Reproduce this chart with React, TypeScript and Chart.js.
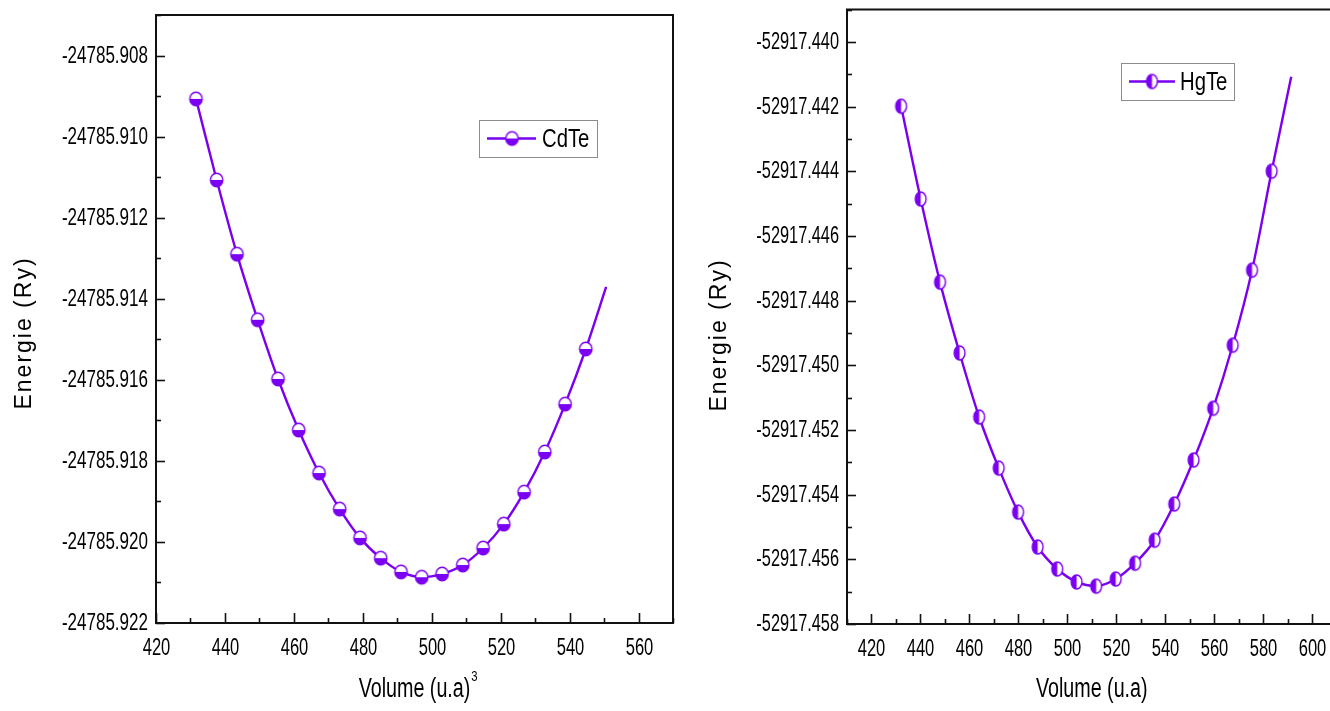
import React, { useEffect, useRef } from 'react';
import { Chart, registerables } from 'chart.js';
Chart.register(...registerables);

const ARIAL = '"Liberation Sans", Arial, Helvetica, sans-serif';
const PURPLE = '#7b00f2';
const INK = '#000000';

// ---- CdTe data ----
const cdteVolume = [431.6, 437.6, 443.5, 449.5, 455.4, 461.4, 467.3, 473.3, 479.2, 485.2, 491.1, 497.1, 503.0, 509.0, 514.9, 520.9, 526.8, 532.8, 538.7, 544.7];
const cdteEnergy = [-24785.90907, -24785.91107, -24785.91290, -24785.91452, -24785.91598, -24785.91724, -24785.91830, -24785.91919, -24785.91990, -24785.92040, -24785.92074, -24785.92087, -24785.92079, -24785.92057, -24785.92015, -24785.91956, -24785.91877, -24785.91778, -24785.91660, -24785.91524];
const cdteFitVolume = [...cdteVolume, 550.6];
const cdteFitEnergy = [...cdteEnergy, -24785.91371];
const cdteXRange = [420, 570];
const cdteYRange = [-24785.922, -24785.907];

// ---- HgTe data ----
const hgteVolume = [432.1, 440.1, 448.0, 456.0, 464.0, 472.0, 479.9, 487.9, 495.9, 503.8, 511.8, 519.8, 527.7, 535.7, 543.7, 551.6, 559.6, 567.6, 575.5, 583.5];
const hgteEnergy = [-52917.44199, -52917.44486, -52917.44743, -52917.44962, -52917.45160, -52917.45318, -52917.45454, -52917.45562, -52917.45630, -52917.45670, -52917.45683, -52917.45661, -52917.45612, -52917.45541, -52917.45429, -52917.45293, -52917.45133, -52917.44938, -52917.44706, -52917.44400];
const hgteFitVolume = [...hgteVolume, 591.5];
const hgteFitEnergy = [...hgteEnergy, -52917.44108];
const hgteXRange = [410, 610];
const hgteYRange = [-52917.458, -52917.439];

const yTitle = 'Energie (Ry)';
const xTitle = 'Volume (u.a)';

type Panel = {
  name: string;
  vol: number[]; en: number[]; fitVol: number[]; fitEn: number[];
  xRange: number[]; yRange: number[];
  half: 'bottom' | 'left';
  rx: number; ry: number;
  areaLeft: number; areaTop: number; padRight: number; xAxisH: number;
  legendBox: number[]; legLine: number[]; legMarker: number; legText: number;
  yTitlePos: number[]; xTitleY: number; sup: boolean; yLabelScale: number;
};

function makeMarker(half: 'bottom' | 'left', rx: number, ry: number) {
  const c = document.createElement('canvas');
  const w = Math.ceil(rx * 2 + 4), h = Math.ceil(ry * 2 + 4);
  c.width = w; c.height = h;
  const g = c.getContext('2d')!;
  const cx = w / 2, cy = h / 2;
  g.fillStyle = '#ffffff';
  g.beginPath(); g.ellipse(cx, cy, rx, ry, 0, 0, Math.PI * 2); g.fill();
  g.fillStyle = PURPLE;
  g.beginPath();
  if (half === 'bottom') g.ellipse(cx, cy, rx, ry, 0, 0, Math.PI);
  else g.ellipse(cx, cy, rx, ry, 0, Math.PI / 2, Math.PI * 1.5);
  g.closePath(); g.fill();
  g.strokeStyle = PURPLE; g.lineWidth = 1.4;
  g.beginPath(); g.ellipse(cx, cy, rx, ry, 0, 0, Math.PI * 2); g.stroke();
  return c;
}

function narrowText(ctx: CanvasRenderingContext2D, text: string, x: number, y: number, align: CanvasTextAlign, sx: number) {
  ctx.save();
  ctx.translate(x, y);
  ctx.scale(sx, 1);
  ctx.textAlign = align;
  ctx.textBaseline = 'middle';
  ctx.fillText(text, 0, 0);
  ctx.restore();
}

function buildChart(canvas: HTMLCanvasElement, p: Panel) {
  const marker = makeMarker(p.half, p.rx, p.ry);
  const yMin = p.yRange[0];
  const plugin = {
    id: 'frameAndDecor',
    afterDatasetsDraw(chart: any) {
      const { ctx, chartArea: a, scales } = chart;
      ctx.save();
      // frame
      ctx.strokeStyle = '#111';
      ctx.lineWidth = 2;
      ctx.strokeRect(a.left, a.top, a.right - a.left, a.bottom - a.top);
      // inward ticks + labels
      ctx.fillStyle = INK;
      ctx.font = `23px ${ARIAL}`;
      for (const t of scales.x.ticks) {
        const v = Math.round(t.value);
        const px = Math.round(scales.x.getPixelForValue(t.value)) + 0.5;
        const major = v % 20 === 0;
        ctx.lineWidth = 1.6;
        ctx.beginPath(); ctx.moveTo(px, a.bottom); ctx.lineTo(px, a.bottom - (major ? 10 : 5)); ctx.stroke();
        if (major) narrowText(ctx, String(v), px, a.bottom + 26, 'center', 0.72);
      }
      for (const t of scales.y.ticks) {
        const py = Math.round(scales.y.getPixelForValue(t.value)) + 0.5;
        const k = Math.round((t.value - yMin) / 0.001);
        const major = k % 2 === 0;
        ctx.lineWidth = 1.6;
        ctx.beginPath(); ctx.moveTo(a.left, py); ctx.lineTo(a.left + (major ? 9 : 5), py); ctx.stroke();
        if (major) narrowText(ctx, Number(t.value).toFixed(3), a.left - 8, py, 'right', p.yLabelScale);
      }
      // legend
      const [bx, by, bw, bh] = p.legendBox;
      ctx.fillStyle = '#ffffff';
      ctx.fillRect(bx, by, bw, bh);
      ctx.strokeStyle = '#8c8c8c'; ctx.lineWidth = 1;
      ctx.strokeRect(bx + 0.5, by + 0.5, bw, bh);
      const ly = by + bh / 2;
      ctx.strokeStyle = PURPLE; ctx.lineWidth = 2.4;
      ctx.beginPath(); ctx.moveTo(bx + p.legLine[0], ly); ctx.lineTo(bx + p.legLine[1], ly); ctx.stroke();
      ctx.drawImage(marker, bx + p.legMarker - marker.width / 2, ly - marker.height / 2);
      ctx.fillStyle = INK;
      ctx.font = `26px ${ARIAL}`;
      narrowText(ctx, p.name, bx + p.legText, ly + 1, 'left', 0.78);
      // x title
      const cx = (a.left + a.right) / 2;
      ctx.font = `27px ${ARIAL}`;
      narrowText(ctx, xTitle, cx, p.xTitleY, 'center', 0.73);
      if (p.sup) {
        const w = ctx.measureText(xTitle).width * 0.73;
        ctx.font = `15px ${ARIAL}`;
        narrowText(ctx, '3', cx + w / 2 + 1, p.xTitleY - 13, 'left', 0.75);
      }
      // y title
      ctx.save();
      ctx.translate(p.yTitlePos[0], p.yTitlePos[1]);
      ctx.rotate(-Math.PI / 2);
      ctx.font = `23px ${ARIAL}`;
      (ctx as any).letterSpacing = '2px';
      ctx.textAlign = 'center'; ctx.textBaseline = 'middle';
      ctx.fillText(yTitle, 0, 0);
      ctx.restore();
      ctx.restore();
    },
  };

  return new Chart(canvas, {
    type: 'line',
    data: {
      datasets: [
        {
          label: p.name,
          data: p.vol.map((v, i) => ({ x: v, y: p.en[i] })),
          showLine: false,
          pointStyle: marker as any,
          pointRadius: 6,
          pointHoverRadius: 6,
          order: 0,
        },
        {
          label: p.name + ' fit',
          data: p.fitVol.map((v, i) => ({ x: v, y: p.fitEn[i] })),
          borderColor: PURPLE,
          borderWidth: 2.4,
          pointRadius: 0,
          cubicInterpolationMode: 'monotone',
          fill: false,
          order: 1,
        },
      ],
    } as any,
    options: {
      responsive: false,
      animation: false,
      events: [],
      layout: { padding: { left: 0, top: p.areaTop, right: p.padRight, bottom: 0 } },
      plugins: { legend: { display: false }, tooltip: { enabled: false } },
      scales: {
        x: {
          type: 'linear',
          min: p.xRange[0], max: p.xRange[1],
          grid: { display: false, drawTicks: false },
          border: { display: false },
          ticks: { display: false, stepSize: 10, autoSkip: false },
          afterFit: (s: any) => { s.height = p.xAxisH; },
        },
        y: {
          type: 'linear',
          min: p.yRange[0], max: p.yRange[1],
          grid: { display: false, drawTicks: false },
          border: { display: false },
          ticks: { display: false, stepSize: 0.001, autoSkip: false },
          afterFit: (s: any) => { s.width = p.areaLeft; },
        },
      },
    } as any,
    plugins: [plugin],
  });
}

const leftPanel: Panel = {
  name: 'CdTe',
  vol: cdteVolume, en: cdteEnergy, fitVol: cdteFitVolume, fitEn: cdteFitEnergy,
  xRange: cdteXRange, yRange: cdteYRange,
  half: 'bottom', rx: 6.2, ry: 6.8,
  areaLeft: 156, areaTop: 15, padRight: 7, xAxisH: 88,
  legendBox: [479, 120, 118, 37], legLine: [8, 57], legMarker: 33, legText: 63,
  yTitlePos: [25, 333], xTitleY: 690, sup: true, yLabelScale: 0.74,
};

const rightPanel: Panel = {
  name: 'HgTe',
  vol: hgteVolume, en: hgteEnergy, fitVol: hgteFitVolume, fitEn: hgteFitEnergy,
  xRange: hgteXRange, yRange: hgteYRange,
  half: 'left', rx: 5.4, ry: 7,
  areaLeft: 167, areaTop: 9.5, padRight: 23.5, xAxisH: 87,
  legendBox: [441, 63, 113, 37], legLine: [8, 54], legMarker: 31, legText: 59,
  yTitlePos: [40, 335], xTitleY: 690, sup: false, yLabelScale: 0.71,
};

export default function App() {
  const leftRef = useRef<HTMLCanvasElement>(null);
  const rightRef = useRef<HTMLCanvasElement>(null);
  useEffect(() => {
    const c1 = buildChart(leftRef.current!, leftPanel);
    const c2 = buildChart(rightRef.current!, rightPanel);
    return () => { c1.destroy(); c2.destroy(); };
  }, []);
  return (
    <div style={{ position: 'fixed', left: 0, top: 0, width: 1330, height: 711, overflow: 'hidden', background: '#fff' }}>
      <canvas ref={leftRef} width={680} height={711} style={{ position: 'absolute', left: 0, top: 0, display: 'block' }} />
      <canvas ref={rightRef} width={680} height={711} style={{ position: 'absolute', left: 680, top: 0, display: 'block' }} />
    </div>
  );
}
